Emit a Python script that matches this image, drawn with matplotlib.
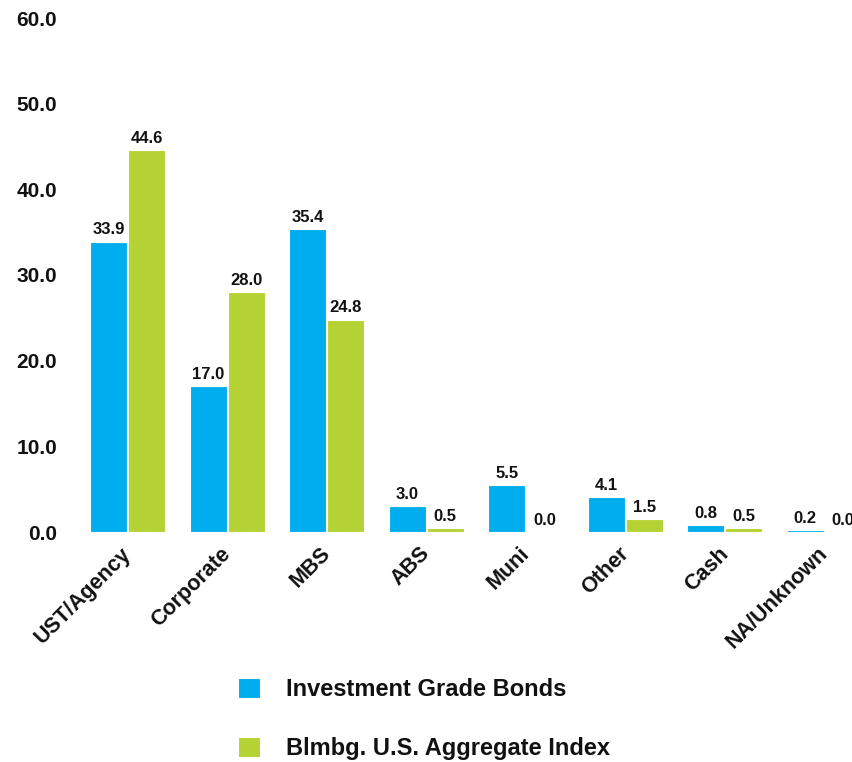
import matplotlib
matplotlib.use("Agg")
import matplotlib.pyplot as plt
from matplotlib.transforms import ScaledTranslation
import numpy as np

plt.rcParams['font.family'] = ['Liberation Sans', 'DejaVu Sans']
plt.rcParams['font.weight'] = 'bold'

categories = ["UST/Agency", "Corporate", "MBS", "ABS", "Muni", "Other", "Cash", "NA/Unknown"]
ig_bonds = [33.9, 17.0, 35.4, 3.0, 5.5, 4.1, 0.8, 0.2]
agg_index = [44.6, 28.0, 24.8, 0.5, 0.0, 1.5, 0.5, 0.0]
series_names = ["Investment Grade Bonds", "Blmbg. U.S. Aggregate Index"]
y_ticks = [0, 10, 20, 30, 40, 50, 60]

BLUE = "#00AEEF"
GREEN = "#B4D234"
TEXT = "#111111"

W, H = 853, 762
fig = plt.figure(figsize=(W / 100, H / 100), dpi=100)
ax = fig.add_axes([78 / W, 230 / H, (W - 78) / W, 514 / H])

x = np.arange(len(categories))
off = 0.19
bw = 0.37
b1 = ax.bar(x - off, ig_bonds, bw, color=BLUE, edgecolor="white", linewidth=0.8, label=series_names[0])
b2 = ax.bar(x + off, agg_index, bw, color=GREEN, edgecolor="white", linewidth=0.8, label=series_names[1])

for bars, vals in ((b1, ig_bonds), (b2, agg_index)):
    for rect, v in zip(bars, vals):
        ax.annotate(f"{v:.1f}", (rect.get_x() + rect.get_width() / 2, v),
                    xytext=(0, 3), textcoords="offset points",
                    ha="center", va="bottom", fontsize=12, fontweight="bold",
                    color=TEXT, clip_on=False, annotation_clip=False)

ax.set_xlim(-0.5, -0.5 + (W - 78) / 99.5)
ax.set_ylim(0, 60)
ax.set_yticks(y_ticks)
ax.set_yticklabels([f"{t:.1f}" for t in y_ticks], fontsize=15, fontweight="bold", color=TEXT)
ax.set_xticks(x)
ax.set_xticklabels(categories, rotation=45, ha="right", rotation_mode="anchor",
                   fontsize=15.5, fontweight="bold", color=TEXT)
ax.tick_params(axis="y", length=0, pad=15)
ax.tick_params(axis="x", length=0, pad=8)
shift = ScaledTranslation(-7 / 100, 0, fig.dpi_scale_trans)
for lbl in ax.get_xticklabels():
    lbl.set_transform(lbl.get_transform() + shift)
for s in ax.spines.values():
    s.set_visible(False)

leg = fig.legend(handles=[b1, b2], labels=series_names, loc="upper left",
                 bbox_to_anchor=(238 / W, 1 - 678 / H), frameon=False,
                 prop={"size": 17, "weight": "bold"},
                 handlelength=0.95, handleheight=0.95, handletextpad=1.1,
                 labelspacing=1.5, borderpad=0, borderaxespad=0)
for t in leg.get_texts():
    t.set_color(TEXT)

fig.savefig("out.png", dpi=100)
